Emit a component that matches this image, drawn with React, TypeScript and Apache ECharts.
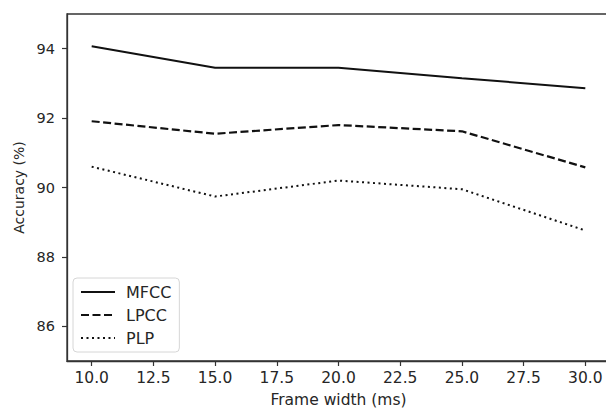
import React, { useEffect, useRef } from "react";
import * as echarts from "echarts";

const frameWidths = [10, 15, 20, 25, 30];
const mfcc = [94.07, 93.45, 93.45, 93.15, 92.86];
const lpcc = [91.91, 91.55, 91.8, 91.62, 90.58];
const plp = [90.6, 89.74, 90.2, 89.95, 88.76];
const xTicks = [10, 12.5, 15, 17.5, 20, 22.5, 25, 27.5, 30];
const yTicks = [86, 88, 90, 92, 94];

const FONT = "DejaVu Sans";
const INK = "#262626";

export default function App() {
  const ref = useRef<HTMLDivElement>(null);
  useEffect(() => {
    if (!ref.current) return;
    const chart = echarts.init(ref.current, null, { renderer: "svg" });
    const pair = (ys: number[]) => frameWidths.map((x, i) => [x, ys[i]]);
    chart.setOption({
      animation: false,
      backgroundColor: "#ffffff",
      textStyle: { fontFamily: FONT, color: INK },
      grid: {
        left: 67,
        top: 14,
        width: 543,
        height: 347,
        show: true,
        borderColor: "#333",
        borderWidth: 1.3,
        backgroundColor: "transparent",
        outerBoundsMode: "none",
        containLabel: false,
      },
      xAxis: {
        type: "value",
        min: 9,
        max: 31,
        name: "Frame width (ms)",
        nameLocation: "middle",
        nameGap: 31,
        nameTextStyle: { fontFamily: FONT, fontSize: 15.5, color: INK },
        axisLine: { show: true, lineStyle: { color: "#333", width: 1.3 } },
        axisTick: {
          show: true,
          inside: false,
          length: 5,
          customValues: xTicks,
          lineStyle: { color: "#333", width: 1.2 },
        },
        axisLabel: {
          customValues: xTicks,
          margin: 9,
          fontFamily: FONT,
          fontSize: 15.5,
          color: INK,
          formatter: (v: number) => v.toFixed(1),
        },
        splitLine: { show: false },
      },
      yAxis: {
        type: "value",
        min: 85,
        max: 95,
        name: "Accuracy (%)",
        nameLocation: "middle",
        nameRotate: 90,
        nameGap: 41,
        nameTextStyle: { fontFamily: FONT, fontSize: 14, color: INK },
        axisLine: { show: true, lineStyle: { color: "#333", width: 1.3 } },
        axisTick: {
          show: true,
          inside: false,
          length: 5,
          customValues: yTicks,
          lineStyle: { color: "#333", width: 1.2 },
        },
        axisLabel: {
          customValues: yTicks,
          margin: 12,
          fontFamily: FONT,
          fontSize: 14.5,
          color: INK,
          formatter: (v: number) => String(v),
        },
        splitLine: { show: false },
      },
      legend: {
        orient: "vertical",
        left: 73,
        top: 278,
        itemWidth: 34,
        itemHeight: 14,
        itemGap: 7,
        padding: [6, 8, 6, 7],
        backgroundColor: "#ffffff",
        borderColor: "#d6d6d6",
        borderWidth: 1,
        borderRadius: 4,
        itemStyle: { opacity: 0 },
        textStyle: {
          fontFamily: FONT,
          fontSize: 16,
          color: INK,
          padding: [0, 0, 0, 6],
        },
        data: ["MFCC", "LPCC", "PLP"],
      },
      series: [
        {
          name: "MFCC",
          type: "line",
          data: pair(mfcc),
          symbol: "none",
          lineStyle: { color: "#111", width: 2, type: "solid" },
          itemStyle: { color: "#111" },
        },
        {
          name: "LPCC",
          type: "line",
          data: pair(lpcc),
          symbol: "none",
          lineStyle: { color: "#111", width: 2.2, type: [8, 3.5] },
          itemStyle: { color: "#111" },
        },
        {
          name: "PLP",
          type: "line",
          data: pair(plp),
          symbol: "none",
          lineStyle: { color: "#111", width: 2, type: [2, 3.5] },
          itemStyle: { color: "#111" },
        },
      ],
    });
    return () => chart.dispose();
  }, []);
  return (
    <div
      ref={ref}
      style={{ position: "fixed", left: 0, top: 0, width: 606, height: 408 }}
    />
  );
}
